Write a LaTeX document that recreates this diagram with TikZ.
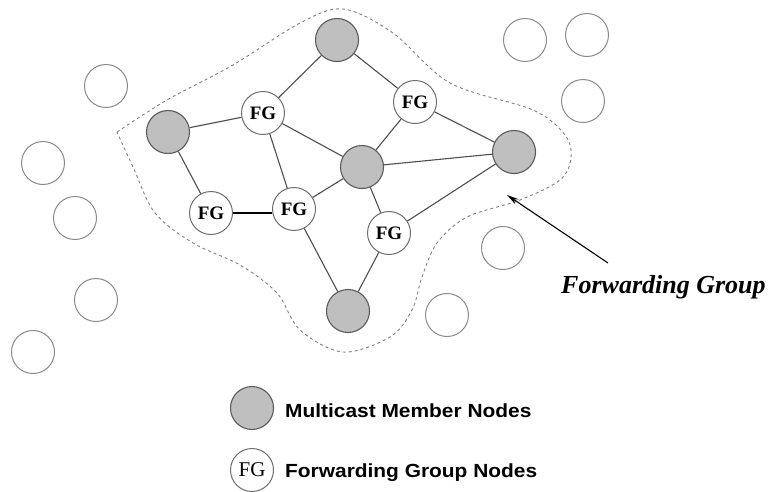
\documentclass[tikz,border=0pt]{standalone}
\usepackage{fontspec}
\setmainfont{Liberation Serif}
\newfontfamily\legendfont{Liberation Sans}
\usetikzlibrary{arrows.meta}
\definecolor{memfill}{HTML}{BFBFBF}
\definecolor{memline}{HTML}{5A5A5A}
\definecolor{fgline}{HTML}{6E6E6E}
\definecolor{idleline}{HTML}{8A8A8A}
\definecolor{edgecol}{HTML}{4E4E4E}
\definecolor{dashcol}{HTML}{808080}
\tikzset{
  member/.style={circle, minimum size=43pt, inner sep=0pt, fill=memfill, draw=memline, line width=1.1pt},
  fgnode/.style={circle, minimum size=43pt, inner sep=0pt, fill=white, draw=fgline, line width=1pt,
                 font=\fontsize{19}{19}\selectfont\bfseries},
  idle/.style={circle, minimum size=43pt, inner sep=0pt, draw=idleline, line width=1pt},
  link/.style={draw=edgecol, line width=1.1pt},
  strong/.style={draw=black, line width=1.6pt},
  legendtext/.style={anchor=base west, inner sep=0pt, font=\legendfont\fontsize{19}{19}\selectfont\bfseries},
}
\begin{document}
\begin{tikzpicture}[x=1pt, y=-1pt]
\useasboundingbox (0,0) rectangle (770,491);
% forwarding group boundary
\draw[dashcol, line width=0.9pt, dash pattern=on 3pt off 3pt]
  plot[smooth, tension=0.55] coordinates {(117,132) (167,100) (233,65) (300,23) (343,9) (393,33) (450,83)
   (533,110) (565,135) (571,158) (560,180) (520,200) (467,217) (437,243) (422,277) (412,310)
   (390,337) (343,352) (300,330) (277,293) (240,265) (193,243) (155,213) (133,167) (117,132)};
% member nodes
\node[member] (m1) at (337,40) {};
\node[member] (m2) at (168,132) {};
\node[member] (m3) at (362,167) {};
\node[member] (m4) at (514,152) {};
\node[member] (m5) at (348,311) {};
% forwarding group nodes
\node[fgnode] (f1) at (263,113) {FG};
\node[fgnode] (f2) at (415,102) {FG};
\node[fgnode] (f3) at (211,213) {FG};
\node[fgnode] (f4) at (294,209) {FG};
\node[fgnode] (f5) at (389,233) {FG};
% idle nodes
\node[idle] (i1) at (106,86) {};
\node[idle] (i2) at (525,40) {};
\node[idle] (i3) at (587,35) {};
\node[idle] (i4) at (583,101) {};
\node[idle] (i5) at (43,163) {};
\node[idle] (i6) at (75,218) {};
\node[idle] (i7) at (96,300) {};
\node[idle] (i8) at (33,352) {};
\node[idle] (i9) at (503,248) {};
\node[idle] (i10) at (447,315) {};
% links
\draw[link] (m1) -- (f1);
\draw[link] (m1) -- (f2);
\draw[link] (m2) -- (f1);
\draw[link] (m2) -- (f3);
\draw[link] (f1) -- (m3);
\draw[link] (f1) -- (f4);
\draw[link] (f2) -- (m3);
\draw[link] (f2) -- (m4);
\draw[link] (m3) -- (m4);
\draw[link] (m3) -- (f4);
\draw[link] (m3) -- (f5);
\draw[strong] (f3.east) -- (f3.east -| f4.west);
\draw[link] (f4) -- (m5);
\draw[link] (f5) -- (m5);
\draw[link] (f5) -- (m4);
% label with arrow
\node[anchor=base west, inner sep=0pt, font=\fontsize{26}{26}\selectfont\bfseries\itshape] (fglabel) at (561,293) {Forwarding Group};
\coordinate (tail) at (608,263);
\coordinate (tip) at (507,195);
\draw[black, line width=1.1pt, -{Stealth[length=12pt, width=6pt]}] (tail) -- (tip);
% legend
\node[member] (lm) at (252,408) {};
\node[fgnode, font=\fontsize{21}{21}\selectfont] (lf) at (252,470) {FG};
\node[legendtext] (lmt) at (285,417) {\scalebox{1.1}[1]{Multicast Member Nodes}};
\node[legendtext] (lft) at (285,477) {\scalebox{1.1}[1]{Forwarding Group Nodes}};
\end{tikzpicture}
\end{document}
